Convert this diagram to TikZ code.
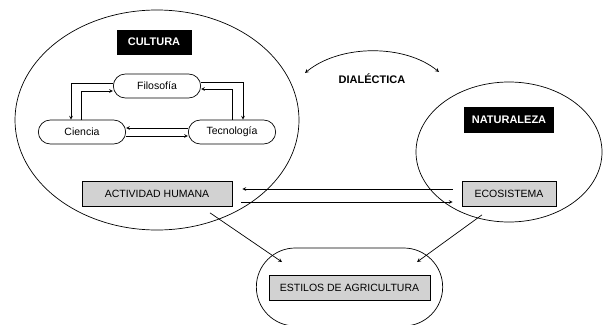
\documentclass[tikz,border=0pt]{standalone}
\usepackage{fontspec}
\setmainfont{Liberation Sans}
\usepackage{tikz}
\usetikzlibrary{positioning}
\usetikzlibrary{arrows}
\usetikzlibrary{shapes.geometric}
\usetikzlibrary{shapes.misc}

\begin{document}
\begin{tikzpicture}[
            x = 1pt, y = -1pt, % one unit per pixel, downwards
            > = stealth, % arrow head style
            line width = 0.7pt, % line style
            font = \fontsize{10.5}{12}\selectfont,
            node distance = 150pt % distance between Ciencia and Tecnologia
        ]

        \tikzstyle{title}=[
            fill = black,
            text = white,
            font = \fontsize{11}{13}\selectfont\bfseries,
            minimum height = 25pt
        ]
        \tikzstyle{idea}=[
            draw,
            rounded rectangle,
            minimum width = 94pt,
            minimum height = 24pt
        ]
        \tikzstyle{place}=[
            draw,
            fill = gray!35,
            minimum height = 25pt
        ]
        \tikzstyle{sphere}=[draw, ellipse, inner sep = 0pt]

        \useasboundingbox (0,0) rectangle (609,324);

	% spheres
        \node[sphere, minimum width = 284pt, minimum height = 220pt] (CUL) at (157,120) {};
        \node[sphere, minimum width = 186pt, minimum height = 140pt] (NAT) at (509,152) {};
        \node[draw, rounded rectangle, minimum width = 193pt, minimum height = 78pt] (AGR) at (349.5,287) {};

	% culture
        \node[title, minimum width = 75pt] (CU) at (154,42) {CULTURA};
        \node[idea] (F) at (157,86) {Filosofía};
        \node[idea] (C) at (82,132) {Ciencia};
        \node[idea] (T) [right of = C] {Tecnología};

        \draw[->] ([yshift=3pt]F.west) -| ([xshift=-11pt]C.north);
        \draw[->] ([xshift=-1pt]C.north) |- ([yshift=-5pt]F.west);
        \draw[->] ([yshift=4pt]F.east) -| ([xshift=11pt]T.north);
        \draw[->] (T.north) |- ([yshift=-3pt]F.east);
        \draw[->] ([yshift=4pt]T.west) -- ([yshift=4pt]C.east);
        \draw[->] ([yshift=-4pt]C.east) -- ([yshift=-4pt]T.west);

	% human activity and nature
        \node[place, minimum width = 150pt] (AH) at (157,194) {ACTIVIDAD HUMANA};
        \node[title, minimum width = 90pt, minimum height = 26pt] (NA) at (509,120) {NATURALEZA};
        \node[place, minimum width = 94pt] (EC) at (509,194) {ECOSISTEMA};

        \draw[->, shorten <= 9pt, shorten > = 10pt] ([yshift=5pt]EC.west) -- ([yshift=5pt]AH.east);
        \draw[->, shorten <= 9pt, shorten > = 9pt] ([yshift=-8pt]AH.east) -- ([yshift=-8pt]EC.west);

	% dialectic
        \node[font = \fontsize{11}{13}\selectfont\bfseries] (D) at (372,79) {DIALÉCTICA};
        \coordinate (DL) at (305,73);
        \coordinate (DR) at (439,72);

        \draw[<->] (DL) .. controls (340,44) and (405,44) .. (DR);

	% styles of agriculture
        \node[place, minimum width = 161pt] (EA) at (349.5,287.5) {ESTILOS DE AGRICULTURA};
        \coordinate (EAL) at (282,262);
        \coordinate (EAR) at (417,262);

        \draw[->] ([xshift=53pt, yshift=-6pt]AH.south) -- (EAL);
        \draw[->] ([xshift=-27pt, yshift=-8pt]EC.south) -- (EAR);

\end{tikzpicture}
\end{document}
